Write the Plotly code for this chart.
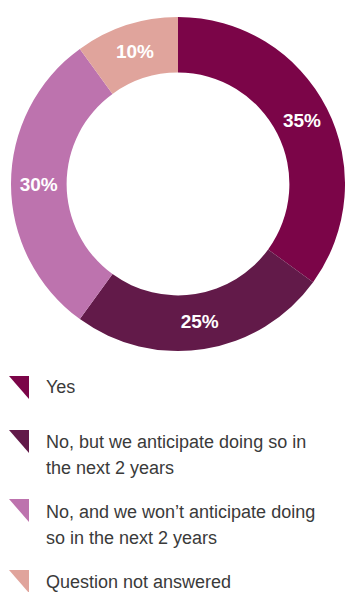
import plotly.graph_objects as go

# Survey answers and their shares (percent)
answers = [
    "Yes",
    "No, but we anticipate doing so in<br>the next 2 years",
    "No, and we won\u2019t anticipate doing<br>so in the next 2 years",
    "Question not answered",
]
shares = [35, 25, 30, 10]
colors = ["#7b0548", "#621a49", "#bd73ae", "#e0a49c"]

W, H = 345, 592
FONT = "Liberation Sans, Arial, Helvetica, sans-serif"

fig = go.Figure()

# Donut chart
fig.add_trace(go.Pie(
    labels=answers,
    values=shares,
    sort=False,
    direction="clockwise",
    rotation=0,
    hole=0.667,
    marker=dict(colors=colors, line=dict(width=0)),
    texttemplate="<b>%{value}%</b>",
    textposition="inside",
    insidetextorientation="horizontal",
    textfont=dict(family=FONT, size=19, color="white"),
    domain=dict(x=[11 / W, 1.0], y=[1 - 351 / H, 1 - 17 / H]),
    showlegend=False,
    hoverinfo="label+percent",
))

# Custom legend on a hidden axis scaled 1 unit = 1 pixel
row_first_line = [387, 442, 512, 582]
swatch_top = [376, 430, 499, 570]
swatch_left, swatch_w, swatch_h = 9, 20, 23
line_gap = 26

for label, color, top in zip(answers, colors, swatch_top):
    # right triangle with its right angle at the top-right corner
    xs = [swatch_left, swatch_left + swatch_w, swatch_left + swatch_w, swatch_left]
    ys = [top, top, top + swatch_h, top]
    fig.add_trace(go.Scatter(
        x=xs, y=ys, mode="lines", fill="toself",
        fillcolor=color, line=dict(width=0, color=color),
        showlegend=False, hoverinfo="skip", name=label.replace("<br>", " "),
    ))

annotations = []
for label, y0 in zip(answers, row_first_line):
    for i, line in enumerate(label.split("<br>")):
        annotations.append(dict(
            x=44, y=y0 + i * line_gap, xref="x", yref="y",
            text=line, showarrow=False, xanchor="left", yanchor="middle",
            font=dict(family=FONT, size=18, color="#3a3a3a"),
        ))

fig.update_layout(
    width=W, height=H,
    margin=dict(l=0, r=0, t=0, b=0),
    paper_bgcolor="white",
    plot_bgcolor="rgba(0,0,0,0)",
    xaxis=dict(range=[0, W], visible=False, fixedrange=True, domain=[0, 1]),
    yaxis=dict(range=[H, 0], visible=False, fixedrange=True, domain=[0, 1]),
    annotations=annotations,
)

fig.write_html("out.html")
